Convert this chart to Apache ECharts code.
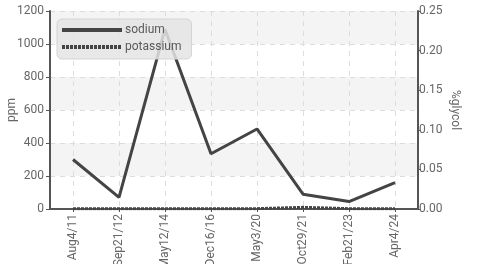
<!DOCTYPE html>
<html><head><meta charset="utf-8">
<script src="https://cdn.jsdelivr.net/npm/echarts@6/dist/echarts.min.js"></script>
<style>html,body{margin:0;padding:0;background:#fff}#c{width:480px;height:264px}</style>
</head><body><div id="c"></div>
<script>
const categories = ['Aug4/11','Sep21/12','May12/14','Dec16/16','May3/20','Oct29/21','Feb21/23','Apr4/24'];
const sodium = [300, 70, 1090, 335, 485, 90, 45, 160];
const potassium = [2, 2, 2, 2, 2, 10, 2, 2];
const leftTicks = {min: 0, max: 1200, interval: 200};
const rightTicks = {min: 0, max: 0.25, interval: 0.05};

const font = 'Roboto, "DejaVu Sans Condensed", sans-serif';
const chart = echarts.init(document.getElementById('c'), null, {renderer: 'canvas'});
chart.setOption({
  animation: false,
  textStyle: {fontFamily: font},
  grid: {left: 50, right: 62, top: 11, bottom: 55, containLabel: false, outerBoundsMode: 'none'},
  legend: {
    orient: 'vertical', left: 57, top: 19,
    itemWidth: 60, itemHeight: 12, itemGap: 5,
    padding: [5, 10, 6, 3],
    backgroundColor: 'rgba(228,228,228,0.85)',
    borderColor: '#d4d4d4', borderWidth: 1, borderRadius: 5,
    itemStyle: {opacity: 0},
    lineStyle: {width: 4},
    textStyle: {color: '#5a5a5a', fontSize: 12, fontFamily: font, padding: [0,0,0,-2]},
    data: ['sodium', 'potassium']
  },
  xAxis: {
    type: 'category', data: categories, boundaryGap: true,
    axisLine: {lineStyle: {color: '#555', width: 2}},
    axisTick: {show: true, alignWithLabel: true, length: 3, lineStyle: {color: '#555'}},
    axisLabel: {rotate: 90, color: '#666', fontSize: 12, fontFamily: font, margin: 5},
    splitLine: {show: true, alignWithLabel: true, lineStyle: {color: '#ddd', type: [5, 5]}}
  },
  yAxis: [{
    type: 'value', min: leftTicks.min, max: leftTicks.max, interval: leftTicks.interval,
    name: 'ppm', nameLocation: 'middle', nameGap: 32, nameMoveOverlap: false,
    nameTextStyle: {color: '#666', fontSize: 12, fontFamily: font},
    axisLine: {show: true, lineStyle: {color: '#555', width: 2}},
    axisTick: {show: true, length: 4, lineStyle: {color: '#555'}},
    axisLabel: {color: '#666', fontSize: 12, fontFamily: font, margin: 6, formatter: v => String(v)},
    splitLine: {show: true, lineStyle: {color: '#ddd', type: [5, 5]}},
    splitArea: {show: true, areaStyle: {color: ['#ffffff', '#f4f4f4']}}
  }, {
    type: 'value', min: rightTicks.min, max: rightTicks.max, interval: rightTicks.interval,
    position: 'right',
    name: '%glycol', nameLocation: 'middle', nameGap: 31, nameRotate: -90, nameMoveOverlap: false,
    nameTextStyle: {color: '#666', fontSize: 12, fontFamily: font},
    axisLine: {show: true, lineStyle: {color: '#555', width: 2}},
    axisTick: {show: true, length: 3, lineStyle: {color: '#555'}},
    axisLabel: {color: '#666', fontSize: 12, fontFamily: font, margin: 1,
      formatter: v => v.toFixed(2)},
    splitLine: {show: false}
  }],
  series: [{
    name: 'sodium', type: 'line', data: sodium, yAxisIndex: 0,
    symbol: 'none', color: '#444',
    lineStyle: {color: '#444', width: 3}
  }, {
    name: 'potassium', type: 'line', data: potassium, yAxisIndex: 0,
    symbol: 'none', color: '#444',
    lineStyle: {color: '#444', width: 3, type: [3, 1]}
  }]
});
</script></body></html>
